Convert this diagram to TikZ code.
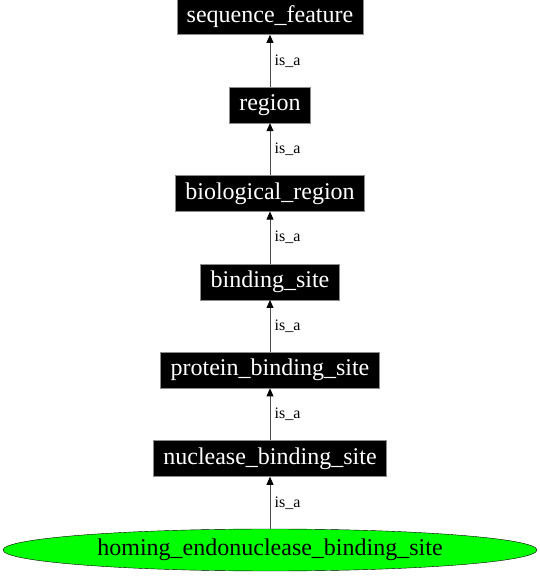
\documentclass[tikz,border=0pt]{standalone}
\usepackage{fontspec}
\setmainfont{Liberation Serif}
\usetikzlibrary{positioning,shapes.geometric,arrows.meta}

\begin{document}
\begin{tikzpicture}[
        x=1pt, y=1pt,
        >={Triangle[length=8pt,width=7pt,black]},
        node distance=52pt,
        term/.style={
            rectangle,
            draw=black!45,
            fill=black,
            text=white,
            minimum height=36pt,
            inner xsep=10pt,
            font=\fontsize{24}{28}\selectfont
        },
        leaf/.style={
            ellipse,
            draw=black,
            fill=green,
            minimum width=534pt,
            minimum height=42pt,
            inner sep=0pt,
            font=\fontsize{24}{28}\selectfont
        },
        isa/.style={
            ->,
            draw=black!70,
            line width=0.8pt
        },
        isalabel/.style={
            right,
            xshift=1pt,
            font=\fontsize{16}{19}\selectfont
        }
    ]
    \useasboundingbox (-270,-26) rectangle (270,550);

    % Leaf term
    \node[leaf] (homing) at (0,0) {homing\_endonuclease\_binding\_site};

    % Ancestor terms (bottom to top)
    \node[term, above=of homing] (nucbind) {nuclease\_binding\_site};
    \node[term, above=of nucbind] (protbind) {protein\_binding\_site};
    \node[term, above=of protbind] (bindsite) {binding\_site};
    \node[term, above=of bindsite] (bioregion) {biological\_region};
    \node[term, above=of bioregion] (region) {region};
    \node[term, above=of region] (seqfeat) {sequence\_feature};

    % is_a edges
    \draw[isa] (homing) -- (nucbind) node[midway, isalabel] {is\_a};
    \draw[isa] (nucbind) -- (protbind) node[midway, isalabel] {is\_a};
    \draw[isa] (protbind) -- (bindsite) node[midway, isalabel] {is\_a};
    \draw[isa] (bindsite) -- (bioregion) node[midway, isalabel] {is\_a};
    \draw[isa] (bioregion) -- (region) node[midway, isalabel] {is\_a};
    \draw[isa] (region) -- (seqfeat) node[midway, isalabel] {is\_a};

\end{tikzpicture}
\end{document}
